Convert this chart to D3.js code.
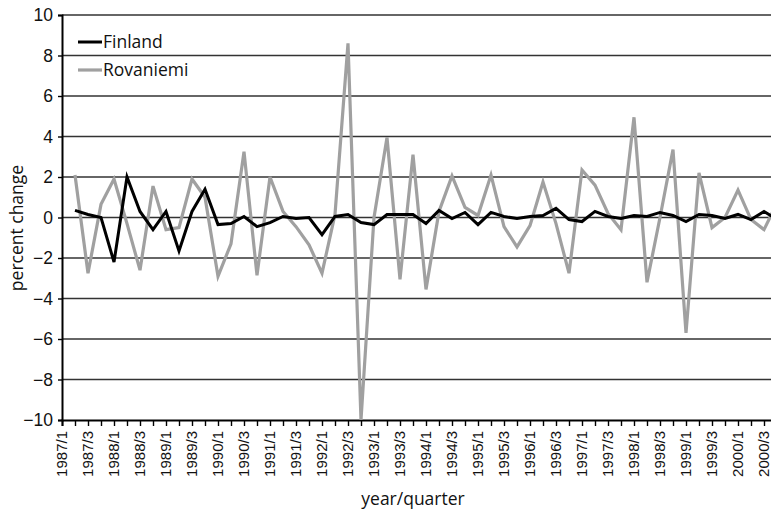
<!DOCTYPE html>
<html>
<head>
<meta charset="utf-8">
<script src="https://cdn.jsdelivr.net/npm/d3@7"></script>
<style>
  body { margin: 0; background: #fff; }
  svg { display: block; font-family: "Open Sans", sans-serif; }
</style>
</head>
<body>
<script>
// quarters 1987/1 .. 2000/4 (first quarter has no change value)
const years = d3.range(1987, 2001);
const quarters = years.flatMap(y => [1, 2, 3, 4].map(q => y + '/' + q));

const finland = [null, 0.35, 0.15, 0.0, -2.2, 2.0, 0.3, -0.6, 0.3, -1.65, 0.3, 1.4,
  -0.35, -0.3, 0.05, -0.45, -0.25, 0.05, -0.05, 0.0, -0.85, 0.05, 0.15, -0.25,
  -0.35, 0.15, 0.15, 0.15, -0.3, 0.35, -0.05, 0.25, -0.35, 0.25, 0.05, -0.05,
  0.05, 0.1, 0.45, -0.1, -0.2, 0.3, 0.05, -0.05, 0.1, 0.05, 0.25, 0.1,
  -0.2, 0.15, 0.1, -0.05, 0.15, -0.1, 0.3, -0.1];

const rovaniemi = [null, 2.1, -2.75, 0.65, 1.9, -0.3, -2.6, 1.55, -0.6, -0.5, 1.9, 1.0,
  -2.9, -1.3, 3.25, -2.85, 2.0, 0.3, -0.45, -1.35, -2.75, 0.15, 8.6, -10.0,
  0.0, 3.95, -3.05, 3.1, -3.55, 0.3, 2.05, 0.5, 0.1, 2.1, -0.45, -1.45,
  -0.4, 1.75, -0.3, -2.75, 2.35, 1.6, 0.2, -0.6, 4.95, -3.2, 0.0, 3.35,
  -5.7, 2.2, -0.5, 0.0, 1.35, -0.1, -0.6, 0.7];

const yTicks = d3.range(-10, 11, 2);

const width = 771, height = 516;
const step = 13;
const marginLeft = 62, plotTop = 15, plotBottom = 420;

const svg = d3.select('body').append('svg')
  .attr('width', width)
  .attr('height', height);

const x = d3.scaleLinear()
  .domain([0, quarters.length - 1])
  .range([marginLeft, marginLeft + (quarters.length - 1) * step]);

const y = d3.scaleLinear()
  .domain([-10, 10])
  .range([plotBottom, plotTop]);

// horizontal grid
svg.append('g')
  .selectAll('line')
  .data(yTicks.filter(d => d > -10))
  .join('line')
  .attr('x1', marginLeft)
  .attr('x2', x.range()[1])
  .attr('y1', d => y(d))
  .attr('y2', d => y(d))
  .attr('stroke', '#333')
  .attr('stroke-width', 1.4);

// y axis
const yAxis = svg.append('g')
  .attr('transform', `translate(${marginLeft},0)`)
  .call(d3.axisLeft(y).tickValues(yTicks).tickSize(4).tickPadding(5)
    .tickFormat(d => d < 0 ? '\u2212' + Math.abs(d) : d));
yAxis.select('.domain').attr('stroke', '#000').attr('stroke-width', 2);
yAxis.selectAll('.tick line').attr('stroke', '#000').attr('stroke-width', 1.4);
yAxis.selectAll('text').attr('font-size', 17.5).attr('fill', '#111');

// x axis
const xAxis = svg.append('g')
  .attr('transform', `translate(0,${plotBottom})`)
  .call(d3.axisBottom(x).tickValues(d3.range(quarters.length)).tickSize(6)
    .tickFormat(i => i % 2 === 0 ? quarters[i] : ''));
xAxis.select('.domain').attr('stroke', '#000').attr('stroke-width', 2);
xAxis.selectAll('.tick line').attr('stroke', '#000').attr('stroke-width', 1.4);
xAxis.selectAll('text')
  .attr('font-size', 15)
  .attr('fill', '#111')
  .attr('transform', 'rotate(-90)')
  .attr('text-anchor', 'end')
  .attr('x', -11)
  .attr('y', 0)
  .attr('dy', '0.33em');

// series
const line = d3.line()
  .defined(d => d != null)
  .x((d, i) => x(i))
  .y(d => y(d));

svg.append('path')
  .datum(rovaniemi)
  .attr('fill', 'none')
  .attr('stroke', '#a0a0a0')
  .attr('stroke-width', 3.2)
  .attr('d', line);

svg.append('path')
  .datum(finland)
  .attr('fill', 'none')
  .attr('stroke', '#000')
  .attr('stroke-width', 3)
  .attr('d', line);

// legend
const legend = [
  { name: 'Finland', color: '#000', w: 3 },
  { name: 'Rovaniemi', color: '#a0a0a0', w: 3.2 }
];
const lg = svg.append('g').selectAll('g')
  .data(legend)
  .join('g')
  .attr('transform', (d, i) => `translate(78,${42 + i * 28})`);
lg.append('line')
  .attr('x1', 0).attr('x2', 24)
  .attr('stroke', d => d.color)
  .attr('stroke-width', d => d.w);
lg.append('text')
  .attr('x', 25)
  .attr('dy', '0.35em')
  .attr('font-size', 17.5)
  .attr('fill', '#111')
  .text(d => d.name);

// axis titles
svg.append('text')
  .attr('x', 413)
  .attr('y', 505)
  .attr('text-anchor', 'middle')
  .attr('font-size', 17.5)
  .attr('fill', '#111')
  .text('year/quarter');

svg.append('text')
  .attr('transform', 'translate(23,228) rotate(-90)')
  .attr('text-anchor', 'middle')
  .attr('font-size', 17.5)
  .attr('fill', '#111')
  .text('percent change');
</script>
</body>
</html>
